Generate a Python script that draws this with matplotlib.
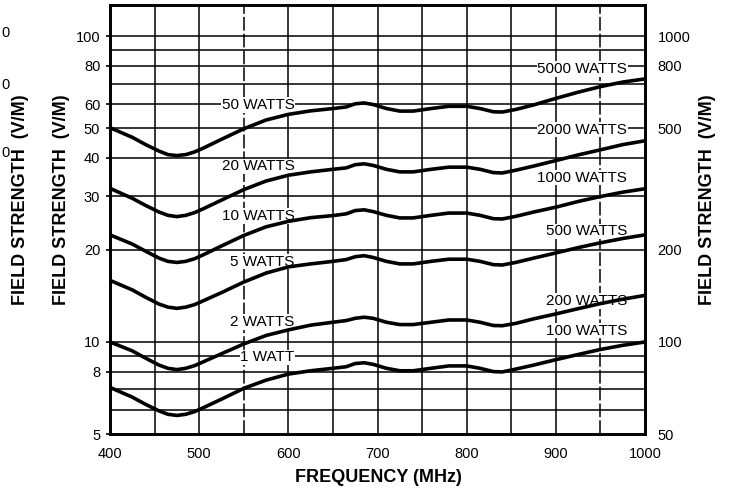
import matplotlib
matplotlib.use("Agg")
import matplotlib.pyplot as plt

plt.rcParams['font.family'] = ['Liberation Sans', 'DejaVu Sans']

# ---- data ----
freq = [400, 425, 440, 455, 465, 475, 485, 495, 505, 525, 550, 575, 600, 625, 650, 665,
        675, 685, 695, 710, 725, 740, 760, 780, 800, 815, 830, 840, 855, 875, 900, 925,
        950, 975, 1000]

w1 = [7.1, 6.6, 6.25, 5.95, 5.8, 5.75, 5.8, 5.92, 6.1, 6.5, 7.05, 7.5, 7.85, 8.05, 8.2, 8.3,
      8.5, 8.55, 8.45, 8.2, 8.05, 8.05, 8.2, 8.35, 8.35, 8.2, 8.0, 7.98, 8.15, 8.4, 8.75, 9.1,
      9.45, 9.75, 10.0]
w2 = [10.0, 9.35, 8.85, 8.4, 8.2, 8.12, 8.2, 8.37, 8.62, 9.15, 9.85, 10.5, 10.95, 11.35, 11.6, 11.75,
      11.95, 12.05, 11.95, 11.6, 11.4, 11.4, 11.6, 11.8, 11.8, 11.6, 11.32, 11.3, 11.5, 11.9, 12.35, 12.85,
      13.35, 13.8, 14.2]
w5 = [15.9, 14.8, 14.0, 13.3, 13.0, 12.88, 13.0, 13.25, 13.65, 14.5, 15.7, 16.8, 17.6, 18.0, 18.35, 18.6,
      19.0, 19.15, 18.9, 18.35, 18.0, 18.0, 18.35, 18.65, 18.65, 18.35, 17.9, 17.85, 18.2, 18.8, 19.55, 20.35,
      21.1, 21.8, 22.4]
w10 = [22.4, 20.9, 19.8, 18.8, 18.35, 18.2, 18.35, 18.72, 19.3, 20.6, 22.3, 23.8, 24.8, 25.5, 25.9, 26.25,
       26.9, 27.05, 26.7, 25.95, 25.45, 25.45, 25.95, 26.4, 26.4, 25.95, 25.3, 25.25, 25.75, 26.6, 27.6, 28.8,
       29.9, 30.9, 31.7]
w20 = [31.8, 29.5, 27.95, 26.6, 25.95, 25.7, 25.95, 26.5, 27.3, 29.1, 31.5, 33.6, 35.1, 36.0, 36.7, 37.1,
       38.0, 38.25, 37.8, 36.7, 36.0, 36.0, 36.7, 37.3, 37.3, 36.7, 35.8, 35.7, 36.45, 37.6, 39.2, 40.9,
       42.5, 44.2, 45.5]
w50 = [50.2, 46.7, 44.2, 42.1, 41.0, 40.7, 41.0, 41.85, 43.1, 46.0, 49.8, 53.2, 55.5, 57.0, 58.0, 58.7,
       60.1, 60.5, 59.8, 58.0, 56.9, 56.9, 58.0, 59.0, 59.0, 58.0, 56.6, 56.5, 57.6, 59.6, 62.6, 65.6,
       68.4, 70.8, 72.5]

series = [w1, w2, w5, w10, w20, w50]

left_labels = ["1 WATT", "2 WATTS", "5 WATTS", "10 WATTS", "20 WATTS", "50 WATTS"]
left_label_y = [8.9, 11.6, 18.3, 25.8, 37.5, 59.5]
right_labels = ["100 WATTS", "200 WATTS", "500 WATTS", "1000 WATTS", "2000 WATTS", "5000 WATTS"]
right_label_y = [10.9, 13.6, 23.0, 34.5, 49.5, 78.0]

left_ticks = [5, 8, 10, 20, 30, 40, 50, 60, 80, 100]
right_ticks = [50, 100, 200, 500, 800, 1000]
x_ticks = [400, 500, 600, 700, 800, 900, 1000]
grid_y = [6, 7, 8, 9, 10, 20, 30, 40, 50, 60, 70, 80, 90, 100]
grid_x = [450, 500, 550, 600, 650, 700, 750, 800, 850, 900, 950]
dashed_x = [550, 950]

W, H = 731, 495
fig = plt.figure(figsize=(W / 100, H / 100), dpi=100)
ax = fig.add_axes([110 / W, 1 - 434 / H, 535 / W, 429 / H])
ax.set_yscale('log')
ax.set_xlim(400, 1000)
ax.set_ylim(5, 126.5)

# grid
for gy in grid_y:
    ax.axhline(gy, color='black', lw=1.1, zorder=1)
for gx in grid_x:
    if gx in dashed_x:
        ax.axvline(gx, color='black', lw=1.1, zorder=1, dashes=(9, 2))
    else:
        ax.axvline(gx, color='black', lw=1.1, zorder=1)

# curves
for s in series:
    ax.plot(freq, s, color='black', lw=2.6, zorder=3,
            solid_joinstyle='round', solid_capstyle='butt')

# curve labels
for lab, yy in zip(left_labels, left_label_y):
    ax.text(607, yy, lab, ha='right', va='center', fontsize=11, zorder=2,
            bbox=dict(facecolor='white', edgecolor='none', pad=0.6))
for lab, yy in zip(right_labels, right_label_y):
    ax.text(980, yy, lab, ha='right', va='center', fontsize=11, zorder=2,
            bbox=dict(facecolor='white', edgecolor='none', pad=0.6))

# axes styling
for sp in ax.spines.values():
    sp.set_linewidth(1.9)
ax.set_yticks(left_ticks)
ax.set_yticklabels([str(t) for t in left_ticks])
ax.yaxis.set_minor_locator(matplotlib.ticker.NullLocator())
ax.set_xticks(x_ticks)
ax.set_xticklabels([str(t) for t in x_ticks])
ax.tick_params(axis='y', which='major', length=3, width=1.2, pad=4, labelsize=10.5)
ax.tick_params(axis='x', which='major', length=0, pad=9, labelsize=10.5)

ax2 = ax.twinx()
ax2.set_yscale('log')
ax2.set_ylim(50, 1265)
ax2.set_yticks(right_ticks)
ax2.set_yticklabels([str(t) for t in right_ticks])
ax2.yaxis.set_minor_locator(matplotlib.ticker.NullLocator())
ax2.tick_params(axis='y', which='major', length=0, pad=9, labelsize=10.5)
for sp in ax2.spines.values():
    sp.set_linewidth(1.9)

# axis titles
fig.text(378 / W, 1 - 478 / H, "FREQUENCY (MHz)", ha='center', va='center',
         fontsize=13, fontweight='bold')
for xp in (21, 61, 707):
    fig.text(xp / W, 1 - 200 / H, "FIELD STRENGTH  (V/M)", ha='center', va='center',
             rotation=90, fontsize=13, fontweight='bold')

# remnants of a neighbouring scale at the far left edge
for yp in (33, 85, 153):
    fig.text(1 / W, 1 - yp / H, "0", ha='left', va='center', fontsize=10.5)

fig.savefig("out.png", dpi=100)
